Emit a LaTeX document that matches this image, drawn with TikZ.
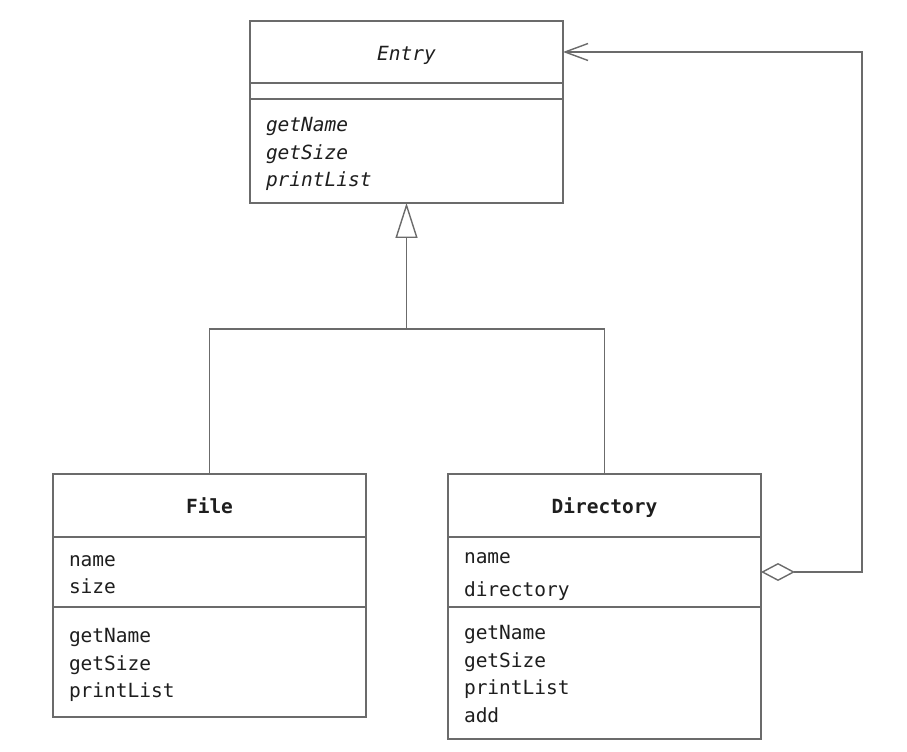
\documentclass[tikz,border=0pt]{standalone}
\usepackage{fontspec}
\setmonofont{DejaVu Sans Mono}
\usetikzlibrary{arrows.meta,positioning}
\definecolor{ink}{HTML}{1E1E1E}
\definecolor{rule}{HTML}{6B6B6B}
\tikzset{
  part/.style={draw=rule,line width=0.8pt,fill=white,text=ink,inner xsep=0.32cm,inner ysep=0pt,
    outer sep=0pt,text width=5.62cm,font=\ttfamily\fontsize{11.1}{15.8}\selectfont,
    execute at begin node={\rule{0pt}{13.9pt}},execute at end node=\strut},
  classname/.style={part,align=center,minimum height=1.26cm},
  members/.style={part,align=left},
  inherit/.style={draw=rule,line width=0.8pt,-{Triangle[open,length=0.7cm,width=0.44cm]}},
  aggregate/.style={draw=rule,line width=0.8pt,
    {Diamond[open,length=0.68cm,width=0.36cm]}-{Straight Barb[length=0.46cm,width=0.34cm]}}
}
\begin{document}
\begin{tikzpicture}
  \useasboundingbox (0,0) rectangle (18.14,-15.02);

  % Entry
  \node[classname,minimum height=1.24cm,anchor=north west] (etitle) at (5.0,-0.42) {\itshape Entry};
  \node[draw=rule,line width=0.8pt,fill=white,outer sep=0pt,minimum width=6.26cm,
    minimum height=0.32cm,inner sep=0pt,below=0pt of etitle] (eattr) {};
  \node[members,minimum height=2.08cm,below=0pt of eattr] (eops)
    {\itshape getName\\ \itshape getSize\\ \itshape printList};

  % File
  \node[classname,anchor=north west] (ftitle) at (1.06,-9.48) {\bfseries File};
  \node[members,minimum height=1.40cm,below=0pt of ftitle] (fattr) {name\\ size};
  \node[members,minimum height=2.20cm,below=0pt of fattr] (fops)
    {getName\\ getSize\\ printList};

  % Directory
  \node[classname,anchor=north west] (dtitle) at (8.96,-9.48) {\bfseries Directory};
  \node[members,minimum height=1.40cm,below=0pt of dtitle] (dattr) {name\\[3pt] directory};
  \node[members,minimum height=2.64cm,below=0pt of dattr] (dops)
    {getName\\ getSize\\ printList\\ add};

  \coordinate (join) at (eops.south |- 0,-6.58);
  \draw[inherit] (join) -- (eops.south);
  \draw[draw=rule,line width=0.8pt] (ftitle.north) |- (join) -| (dtitle.north);
  \draw[aggregate] (dattr.east) -- ++(2.02,0) |- (etitle.east);
\end{tikzpicture}
\end{document}
